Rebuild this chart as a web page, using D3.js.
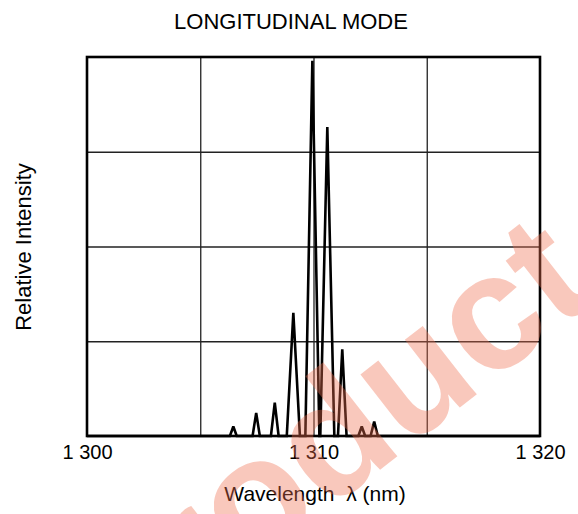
<!DOCTYPE html>
<html>
<head>
<meta charset="utf-8">
<script src="https://cdn.jsdelivr.net/npm/d3@7"></script>
<style>
  html, body { margin: 0; padding: 0; background: #fff; }
  svg { display: block; font-family: "Liberation Sans", Arial, sans-serif; }
</style>
</head>
<body>
<svg id="chart" width="578" height="514"></svg>
<script>
// ---- data ----
const title = "LONGITUDINAL MODE";
const xLabel = "Wavelength  \u03bb (nm)";
const yLabel = "Relative Intensity";
const xDomain = [1300, 1320];
const yDomain = [0, 100];
const xTickValues = [1300, 1310, 1320];
const xTickLabels = ["1 300", "1 310", "1 320"];
const xGridValues = [1305, 1310, 1315];
const yGridValues = [25, 50, 75];
// spectrum polyline: wavelength (nm) and relative intensity (%)
const specWavelength = [
  1300.00,
  1306.31, 1306.46, 1306.61,
  1307.31, 1307.47, 1307.63,
  1308.12, 1308.29, 1308.46,
  1308.82, 1309.11, 1309.40,
  1309.64, 1309.95, 1310.26,
  1310.30, 1310.61, 1310.92,
  1311.08, 1311.27, 1311.46,
  1311.98, 1312.13, 1312.28,
  1312.52, 1312.68, 1312.84,
  1320.00
];
const specIntensity = [
  0,
  0, 2.5, 0,
  0, 6.1, 0,
  0, 8.8, 0,
  0, 32.5, 0,
  0, 99.0, 0,
  0, 81.5, 0,
  0, 22.9, 0,
  0, 2.5, 0,
  0, 3.8, 0,
  0
];
const watermark = "Product";

// ---- layout ----
const svg = d3.select("#chart");
const m = { left: 87, right: 540, top: 57, bottom: 436 };
const x = d3.scaleLinear().domain(xDomain).range([m.left, m.right]);
const y = d3.scaleLinear().domain(yDomain).range([m.bottom, m.top]);

// grid
svg.append("g")
  .attr("transform", `translate(0,${m.bottom})`)
  .call(d3.axisBottom(x).tickValues(xGridValues).tickSize(-(m.bottom - m.top)).tickFormat(""))
  .call(g => g.select(".domain").remove())
  .call(g => g.selectAll("line").attr("stroke", "#222").attr("stroke-width", 1.3));
svg.append("g")
  .attr("transform", `translate(${m.left},0)`)
  .call(d3.axisLeft(y).tickValues(yGridValues).tickSize(-(m.right - m.left)).tickFormat(""))
  .call(g => g.select(".domain").remove())
  .call(g => g.selectAll("line").attr("stroke", "#222").attr("stroke-width", 1.3));

// spectrum
const pts = specWavelength.map((w, i) => [w, specIntensity[i]]);
svg.append("path")
  .datum(pts)
  .attr("fill", "none")
  .attr("stroke", "#000")
  .attr("stroke-width", 2.6)
  .attr("stroke-linejoin", "miter")
  .attr("stroke-miterlimit", 2)
  .attr("d", d3.line().x(d => x(d[0])).y(d => y(d[1])));

// frame
svg.append("rect")
  .attr("x", m.left).attr("y", m.top)
  .attr("width", m.right - m.left).attr("height", m.bottom - m.top)
  .attr("fill", "none").attr("stroke", "#000").attr("stroke-width", 2.6);

// x tick labels
svg.append("g")
  .attr("transform", `translate(0,${m.bottom})`)
  .call(d3.axisBottom(x).tickValues(xTickValues).tickSize(0).tickPadding(9)
        .tickFormat((d, i) => xTickLabels[i]))
  .call(g => g.select(".domain").remove())
  .call(g => g.selectAll("text").attr("font-size", 20).attr("fill", "#000")
        .attr("font-family", "Liberation Sans, Arial, sans-serif"));

// title
svg.append("text")
  .attr("x", 291).attr("y", 29)
  .attr("text-anchor", "middle").attr("font-size", 22).attr("fill", "#000")
  .text(title);

// axis labels
svg.append("text")
  .attr("x", 315).attr("y", 501)
  .attr("text-anchor", "middle").attr("font-size", 21).attr("fill", "#000")
  .style("white-space", "pre")
  .attr("xml:space", "preserve")
  .text(xLabel);
svg.append("text")
  .attr("transform", "translate(31,247) rotate(-90)")
  .attr("text-anchor", "middle").attr("font-size", 22).attr("fill", "#000")
  .text(yLabel);

// watermark
svg.append("text")
  .attr("transform", "translate(601,297) rotate(-38)")
  .attr("text-anchor", "end")
  .attr("font-size", 165).attr("font-weight", "bold")
  .attr("fill", "rgb(240,110,80)").attr("fill-opacity", 0.38)
  .text(watermark);
</script>
</body>
</html>
